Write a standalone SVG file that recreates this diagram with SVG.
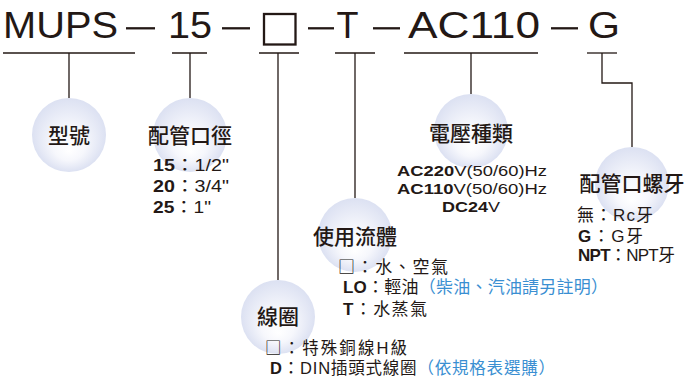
<svg xmlns="http://www.w3.org/2000/svg" width="686" height="380" viewBox="0 0 686 380">
<defs>
<radialGradient id="sph" cx="0.5" cy="0.5" r="0.5" fx="0.5" fy="0.72">
<stop offset="0" stop-color="#ffffff"/>
<stop offset="0.45" stop-color="#f6f7fc"/>
<stop offset="1" stop-color="#dce1f2"/>
</radialGradient>
<style>
.hd{font-family:"Liberation Sans","Noto Sans",sans-serif;font-size:36px;fill:#231815}
.ti{font-family:"Noto Sans CJK TC","Noto Sans CJK SC",sans-serif;font-size:21px;font-weight:500;fill:#231815;text-anchor:middle}
.it{font-family:"Liberation Sans","Noto Sans CJK TC",sans-serif;font-size:17px;fill:#231815}
.v{font-size:15.5px}
.s{font-size:16.5px}
.c{text-anchor:middle}
.b{font-weight:bold}
.bl{fill:#3a8fd2}
.cj{font-family:"Noto Sans CJK TC",sans-serif}
.ln{stroke:#231815;stroke-width:1.3;fill:none}
.da{stroke:#231815;stroke-width:2.3;fill:none}
.sp{fill:url(#sph)}
</style>
</defs>
<rect width="686" height="380" fill="#ffffff"/>

<g id="code">
<text class="hd" x="3" y="38" textLength="115" lengthAdjust="spacingAndGlyphs">MUPS</text>
<line class="da" x1="126" y1="28.3" x2="155" y2="28.3"/>
<text class="hd" x="168" y="38" textLength="44" lengthAdjust="spacingAndGlyphs">15</text>
<line class="da" x1="222" y1="28.3" x2="250" y2="28.3"/>
<rect class="da" x="264" y="14" width="31.5" height="30.5"/>
<line class="da" x1="308" y1="28.3" x2="334" y2="28.3"/>
<text class="hd" x="336.5" y="38" textLength="22" lengthAdjust="spacingAndGlyphs">T</text>
<line class="da" x1="373" y1="28.3" x2="400" y2="28.3"/>
<text class="hd" x="408" y="38" textLength="132" lengthAdjust="spacingAndGlyphs">AC110</text>
<line class="da" x1="551" y1="28.3" x2="578" y2="28.3"/>
<text class="hd" x="588" y="38" textLength="32" lengthAdjust="spacingAndGlyphs">G</text>
</g>

<g id="connectors">
<line class="ln" x1="3" y1="53" x2="135" y2="53"/>
<line class="ln" x1="69" y1="53" x2="69" y2="98"/>
<line class="ln" x1="172" y1="53" x2="207" y2="53"/>
<line class="ln" x1="190" y1="53" x2="190" y2="98"/>
<line class="ln" x1="259" y1="53" x2="299" y2="53"/>
<line class="ln" x1="278" y1="53" x2="278" y2="280"/>
<line class="ln" x1="335" y1="53" x2="375" y2="53"/>
<line class="ln" x1="355" y1="53" x2="355" y2="198"/>
<line class="ln" x1="404" y1="53" x2="538" y2="53"/>
<line class="ln" x1="471" y1="53" x2="471" y2="94"/>
<line class="ln" x1="587" y1="53" x2="617" y2="53"/>
<path class="ln" d="M602 53 V83 H632 V147"/>
</g>

<g id="node-model">
<circle class="sp" cx="69" cy="135" r="37"/>
<text class="ti" x="69" y="143">型號</text>
</g>

<g id="node-port">
<circle class="sp" cx="190" cy="135" r="37"/>
<text class="ti" x="190" y="143">配管口徑</text>
<text class="it" x="153" y="171" textLength="76" lengthAdjust="spacingAndGlyphs"><tspan class="b">15</tspan>：1/2"</text>
<text class="it" x="153" y="192" textLength="76" lengthAdjust="spacingAndGlyphs"><tspan class="b">20</tspan>：3/4"</text>
<text class="it" x="153" y="213" textLength="58" lengthAdjust="spacingAndGlyphs"><tspan class="b">25</tspan>：1"</text>
</g>

<g id="node-voltage">
<circle class="sp" cx="471" cy="131" r="37"/>
<text class="ti" x="471" y="141">電壓種類</text>
<text class="it v c" x="472" y="176" textLength="150" lengthAdjust="spacingAndGlyphs"><tspan class="b">AC220</tspan>V(50/60)Hz</text>
<text class="it v c" x="472" y="194" textLength="150" lengthAdjust="spacingAndGlyphs"><tspan class="b">AC110</tspan>V(50/60)Hz</text>
<text class="it v c" x="471" y="212" textLength="58" lengthAdjust="spacingAndGlyphs"><tspan class="b">DC24</tspan>V</text>
</g>

<g id="node-thread">
<circle class="sp" cx="632" cy="184" r="37"/>
<text class="ti" x="632" y="191">配管口螺牙</text>
<text class="it" x="577" y="221" textLength="76">無：Rc牙</text>
<text class="it" x="578" y="242" textLength="65"><tspan class="b">G</tspan>：G牙</text>
<text class="it" x="578" y="261" textLength="97"><tspan class="b">NPT</tspan>：NPT牙</text>
</g>

<g id="node-fluid">
<circle class="sp" cx="355" cy="235" r="37"/>
<text class="ti" x="355" y="244">使用流體</text>
<text class="it" x="338" y="273" textLength="110"><tspan class="cj">□</tspan>：水、空氣</text>
<text class="it" x="343" y="293" textLength="265"><tspan class="b">LO</tspan>：輕油<tspan class="bl">（柴油、汽油請另註明）</tspan></text>
<text class="it" x="343" y="315" textLength="84"><tspan class="b">T</tspan>：水蒸氣</text>
</g>

<g id="node-coil">
<circle class="sp" cx="278" cy="317" r="37"/>
<text class="ti" x="278" y="324">線圈</text>
<text class="it s" x="265" y="354" textLength="142"><tspan class="cj">□</tspan>：特殊銅線H級</text>
<text class="it s" x="270" y="373.5" textLength="285"><tspan class="b">D</tspan>：DIN插頭式線圈<tspan class="bl">（依規格表選購）</tspan></text>
</g>
</svg>
